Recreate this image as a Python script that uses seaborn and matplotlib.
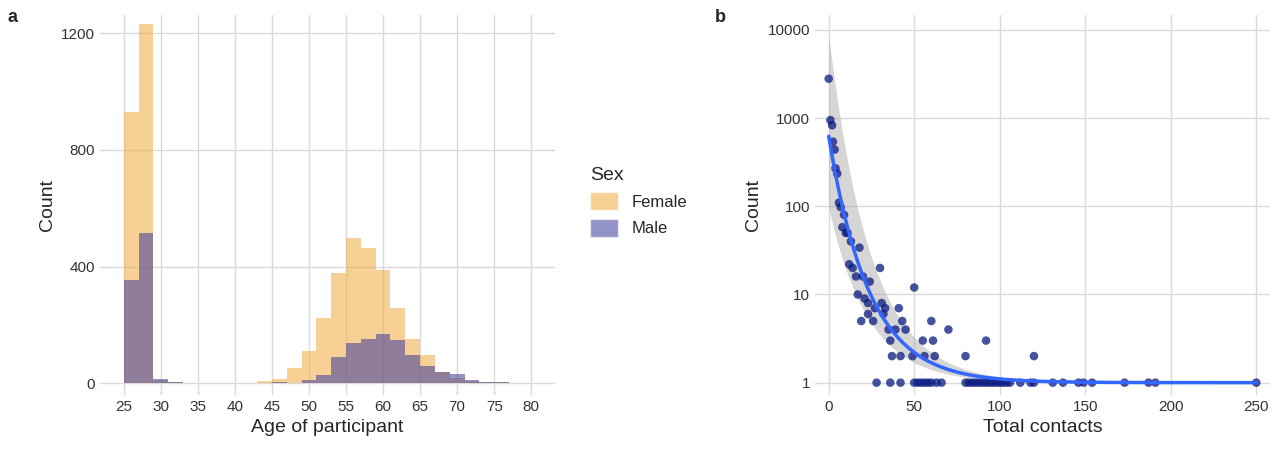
import numpy as np
import pandas as pd
import matplotlib
matplotlib.use("Agg")
import matplotlib.pyplot as plt
import seaborn as sns

# ---- Panel a data (2-year bins starting at 23) ----
bin_edges = list(range(23, 83, 2))
female_counts = [2, 928, 1231, 12, 3, 2, 2, 1, 1, 2, 9, 15, 53, 110, 225, 379, 497, 464, 388, 257, 151, 97, 38, 18, 8, 4, 4, 2, 1]
male_counts = [0, 355, 515, 15, 4, 2, 2, 1, 1, 1, 1, 3, 1, 11, 27, 90, 137, 152, 168, 147, 98, 60, 39, 32, 11, 6, 6, 2, 1]

# ---- Panel b data ----
contacts = [0, 1, 2, 2.5, 3.5, 4, 5, 6, 7, 9, 8, 10, 11, 13, 18, 12, 14, 16, 20, 24, 30, 17,
            21, 23, 27, 31, 33, 32, 23, 19, 26, 35, 39, 45, 36, 41, 43, 50, 55, 61, 60, 70, 92,
            37, 42, 49, 56, 62, 80, 120,
            28, 36, 42, 50, 52, 54, 56, 58, 60, 63, 66, 80, 82, 84, 86, 88, 90, 92, 94, 96, 98,
            100, 102, 104, 106, 112, 118, 120, 131, 137, 146, 149, 154, 173, 187, 191, 250]
counts_b = [2800, 950, 830, 540, 440, 270, 235, 110, 98, 80, 58, 50, 50, 40, 34, 22, 20, 16, 16, 14, 20, 10,
            9, 8, 7, 8, 7, 6, 6, 5, 5, 4, 4, 4, 3, 7, 5, 12, 3, 3, 5, 4, 3,
            2, 2, 2, 2, 2, 2, 2,
            1, 1, 1, 1, 1, 1, 1, 1, 1, 1, 1, 1, 1, 1, 1, 1, 1, 1, 1, 1, 1,
            1, 1, 1, 1, 1, 1, 1, 1, 1, 1, 1, 1, 1, 1, 1, 1]

sns.set_theme(style="whitegrid")
plt.rcParams['font.family'] = ['Liberation Sans', 'DejaVu Sans']

fig = plt.figure(figsize=(12.8, 4.63), dpi=100)
ax1 = fig.add_axes([100/1280, 68/463, 455/1280, 380/463])
ax2 = fig.add_axes([815/1280, 68/463, 455/1280, 380/463])

centers = [e + 1 for e in bin_edges[:-1]]
df = pd.DataFrame({
    "age": centers * 2,
    "n": female_counts + male_counts,
    "Sex": ["Female"] * len(centers) + ["Male"] * len(centers),
})
pal = {"Female": "#F0B24F", "Male": "#3A3A9E"}
for sex, a in [("Female", 0.6), ("Male", 0.55)]:
    sub = df[df.Sex == sex]
    sns.histplot(data=sub, x="age", weights="n", bins=bin_edges, color=pal[sex], alpha=a,
                 edgecolor="none", linewidth=0, ax=ax1, label=sex)
ax1.set_xlim(21.8, 83.2)
ax1.set_ylim(-40, 1262)
ax1.set_xticks(range(25, 85, 5))
ax1.set_yticks([0, 400, 800, 1200])
ax1.set_xlabel("Age of participant", fontsize=14)
ax1.set_ylabel("Count", fontsize=14)

from matplotlib.patches import Patch
handles = [Patch(facecolor=pal["Female"], alpha=0.6), Patch(facecolor=pal["Male"], alpha=0.55)]
fig.legend(handles, ["Female", "Male"], title="Sex", loc="upper left",
           bbox_to_anchor=(575/1280, 1 - 152/463), frameon=False, fontsize=12,
           title_fontsize=14, handlelength=1.7, handleheight=1.3, alignment="left")

# Panel b
dfb = pd.DataFrame({"contacts": contacts, "count": counts_b})
sns.scatterplot(data=dfb, x="contacts", y="count", color="#0A1A80", s=38, alpha=0.75,
                edgecolor="none", ax=ax2, zorder=3)
ax2.set_yscale("log")
# fit log10(y) = A * exp(-B x) on points with count > 1 (first point excluded)
lx_all = np.array(contacts, float)
ly_all = np.log10(np.array(counts_b, float))
m = (ly_all > 0) & (lx_all > 0)
lx, ly = lx_all[m], ly_all[m]
best = None
for B in np.linspace(0.01, 0.3, 600):
    f = np.exp(-B * lx)
    A = (f @ ly) / (f @ f)
    r = ((ly - A * f) ** 2).sum()
    if best is None or r < best[0]:
        best = (r, A, B)
_, A, B = best
xs = np.linspace(0, 250, 400)
fit = A * np.exp(-B * xs)
up = 1.41 * A * np.exp(-B * 0.97 * xs)
lo = 0.71 * A * np.exp(-B * 1.03 * xs)
ax2.fill_between(xs, 10 ** lo, 10 ** up, color="#999999", alpha=0.4, linewidth=0, zorder=2)
ax2.plot(xs, 10 ** fit, color="#3366FF", lw=2.5, zorder=4)
ax2.set_xlim(-8, 258)
ax2.set_ylim(10 ** -0.14, 10 ** 4.17)
ax2.set_yticks([1, 10, 100, 1000, 10000])
ax2.set_yticklabels(["1", "10", "100", "1000", "10000"])
ax2.minorticks_off()
ax2.set_xticks([0, 50, 100, 150, 200, 250])
ax2.set_xlabel("Total contacts", fontsize=14)
ax2.set_ylabel("Count", fontsize=14)

for ax in (ax1, ax2):
    for s in ax.spines.values():
        s.set_visible(False)
    ax.grid(True, color="#DADADA", lw=1)
    ax.tick_params(labelsize=11, colors="#333333", length=0)
    ax.set_axisbelow(True)

fig.text(8/1280, 1 - 18/463, "a", fontsize=13, fontweight="bold", va="center")
fig.text(715/1280, 1 - 18/463, "b", fontsize=13, fontweight="bold", va="center")

fig.savefig("out.png", dpi=100)
